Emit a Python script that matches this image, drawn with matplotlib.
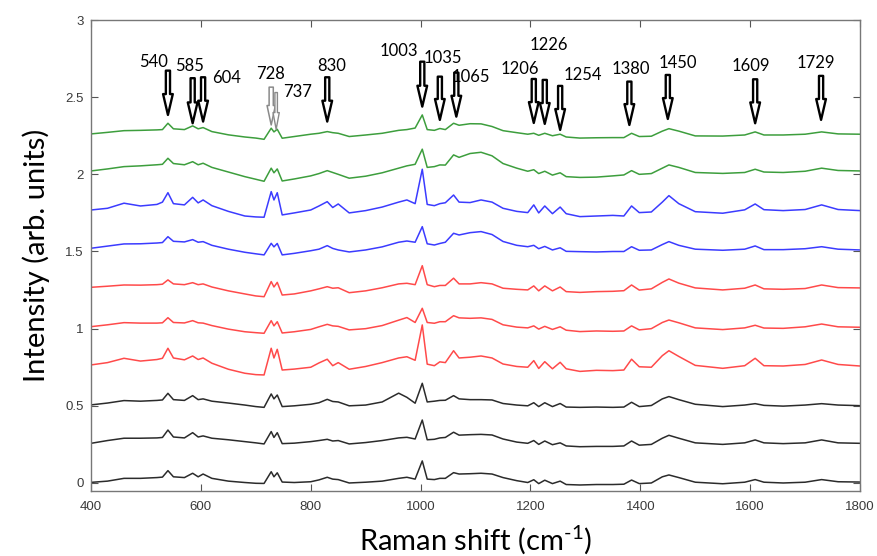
import matplotlib
matplotlib.use("Agg")
import matplotlib.pyplot as plt
from matplotlib.ticker import FormatStrFormatter, MultipleLocator

plt.rcParams["mathtext.fontset"] = "custom"
plt.rcParams["mathtext.rm"] = "Lato"

# Raman shift grid (cm^-1) shared by all spectra
shift = [400, 430, 460, 490, 520, 530, 540, 550, 570, 585, 595, 604, 620, 650, 680, 700,
         715, 728, 733, 739, 748, 770, 800, 815, 830, 840, 850, 870, 900, 930, 960, 975,
         990, 1003, 1012, 1025, 1035, 1045, 1060, 1070, 1090, 1110, 1130, 1150, 1175, 1195,
         1206, 1215, 1226, 1240, 1254, 1265, 1290, 1320, 1350, 1370, 1384, 1398, 1420, 1440,
         1452, 1470, 1500, 1550, 1590, 1609, 1625, 1660, 1700, 1730, 1760, 1800]

# intensities relative to each trace's offset
black_1 = [0.004, 0.012, 0.030, 0.030, 0.035, 0.038, 0.080, 0.040, 0.035, 0.063, 0.040, 0.058,
           0.030, 0.012, 0.003, -0.002, -0.003, 0.073, 0.040, 0.066, 0.006, 0.003, 0.008, 0.020,
           0.037, 0.025, 0.022, 0.000, 0.005, 0.012, 0.030, 0.037, 0.025, 0.143, 0.025, 0.022,
           0.030, 0.030, 0.067, 0.058, 0.060, 0.063, 0.058, 0.035, 0.015, 0.003, 0.021, -0.004,
           0.018, -0.004, 0.012, -0.010, -0.013, -0.010, -0.010, -0.008, 0.019, -0.004, 0.000,
           0.040, 0.052, 0.035, 0.005, -0.005, 0.005, 0.022, 0.005, 0.000, 0.005, 0.022, 0.008,
           0.006]
black_2 = [0.007, 0.025, 0.040, 0.040, 0.042, 0.045, 0.093, 0.048, 0.042, 0.076, 0.048, 0.055,
           0.040, 0.030, 0.018, 0.010, 0.003, 0.083, 0.045, 0.076, 0.005, 0.008, 0.018, 0.025,
           0.033, 0.022, 0.025, 0.003, 0.012, 0.025, 0.042, 0.046, 0.035, 0.158, 0.030, 0.033,
           0.042, 0.045, 0.079, 0.060, 0.063, 0.065, 0.061, 0.035, 0.015, 0.007, 0.025, 0.000,
           0.022, -0.002, 0.010, -0.010, -0.015, -0.013, -0.013, -0.010, 0.022, -0.005, 0.000,
           0.040, 0.059, 0.040, 0.010, 0.000, 0.010, 0.029, 0.010, 0.005, 0.010, 0.029, 0.010,
           0.007]
black_3 = [0.006, 0.018, 0.034, 0.030, 0.035, 0.038, 0.081, 0.040, 0.035, 0.066, 0.040, 0.045,
           0.030, 0.018, 0.005, -0.005, -0.010, 0.077, 0.045, 0.070, -0.005, 0.000, 0.010, 0.020,
           0.042, 0.028, 0.025, 0.000, 0.005, 0.025, 0.082, 0.055, 0.017, 0.146, 0.025, 0.030,
           0.035, 0.036, 0.066, 0.045, 0.040, 0.040, 0.038, 0.015, 0.005, 0.000, 0.020, -0.005,
           0.020, -0.005, 0.015, -0.008, -0.010, -0.008, -0.010, -0.008, 0.023, -0.005, 0.002,
           0.045, 0.060, 0.040, 0.010, -0.005, 0.005, 0.014, 0.003, -0.002, 0.005, 0.014, 0.005,
           0.001]
red_1 = [0.015, 0.030, 0.058, 0.040, 0.050, 0.058, 0.123, 0.060, 0.048, 0.073, 0.050, 0.060,
         0.026, -0.013, -0.039, -0.048, -0.050, 0.123, 0.060, 0.116, -0.018, -0.012, 0.000, 0.028,
         0.052, 0.010, 0.030, -0.013, 0.005, 0.030, 0.060, 0.068, 0.045, 0.274, 0.020, 0.010,
         0.035, 0.030, 0.107, 0.060, 0.065, 0.073, 0.060, 0.021, 0.005, 0.000, 0.043, -0.008,
         0.036, -0.010, 0.032, -0.010, -0.027, -0.020, -0.022, -0.018, 0.052, 0.003, 0.000,
         0.075, 0.107, 0.070, 0.012, -0.007, 0.010, 0.058, 0.010, 0.008, 0.018, 0.047, 0.018,
         0.008]
red_2 = [0.013, 0.025, 0.039, 0.036, 0.036, 0.038, 0.071, 0.040, 0.037, 0.052, 0.038, 0.036,
         0.020, -0.003, -0.020, -0.026, -0.030, 0.052, 0.018, 0.045, -0.028, -0.020, -0.005, 0.012,
         0.028, 0.018, 0.015, -0.008, 0.000, 0.020, 0.055, 0.072, 0.040, 0.132, 0.040, 0.035,
         0.045, 0.045, 0.084, 0.070, 0.067, 0.070, 0.060, 0.025, 0.010, 0.005, 0.018, -0.003,
         0.015, -0.005, 0.012, -0.010, -0.019, -0.015, -0.017, -0.015, 0.018, -0.008, 0.000,
         0.040, 0.056, 0.038, 0.005, -0.006, 0.005, 0.022, 0.004, 0.002, 0.012, 0.030, 0.012,
         0.009]
red_3 = [0.018, 0.025, 0.033, 0.032, 0.035, 0.038, 0.066, 0.040, 0.035, 0.048, 0.035, 0.040,
         0.020, -0.005, -0.025, -0.038, -0.043, 0.055, 0.020, 0.050, -0.032, -0.025, -0.005, 0.008,
         0.022, 0.012, 0.015, -0.017, -0.005, 0.015, 0.040, 0.044, 0.035, 0.158, 0.035, 0.022,
         0.030, 0.030, 0.077, 0.040, 0.040, 0.048, 0.040, 0.012, 0.005, 0.001, 0.027, -0.005,
         0.027, -0.005, 0.020, -0.010, -0.015, -0.010, -0.008, -0.004, 0.033, 0.000, 0.008,
         0.050, 0.072, 0.045, 0.014, 0.001, 0.012, 0.033, 0.008, 0.005, 0.010, 0.033, 0.016,
         0.014]
blue_1 = [0.021, 0.035, 0.049, 0.050, 0.055, 0.058, 0.096, 0.066, 0.062, 0.077, 0.060, 0.064,
          0.040, 0.015, -0.005, -0.015, -0.022, 0.053, 0.030, 0.052, -0.022, -0.012, 0.005, 0.015,
          0.038, 0.020, 0.010, -0.003, 0.010, 0.030, 0.060, 0.068, 0.060, 0.161, 0.050, 0.042,
          0.052, 0.060, 0.118, 0.107, 0.122, 0.129, 0.110, 0.065, 0.040, 0.031, 0.040, 0.018,
          0.033, 0.010, 0.024, 0.001, -0.001, -0.003, 0.000, 0.000, 0.031, 0.008, 0.010,
          0.045, 0.064, 0.040, 0.015, 0.008, 0.015, 0.036, 0.012, 0.012, 0.018, 0.031, 0.015,
          0.010]
blue_2 = [0.019, 0.030, 0.063, 0.045, 0.055, 0.070, 0.131, 0.060, 0.052, 0.101, 0.065, 0.084,
          0.047, 0.010, -0.020, -0.026, -0.028, 0.138, 0.084, 0.131, -0.013, 0.000, 0.019, 0.045,
          0.073, 0.035, 0.058, 0.000, 0.015, 0.038, 0.070, 0.084, 0.060, 0.283, 0.055, 0.047,
          0.060, 0.066, 0.116, 0.070, 0.067, 0.084, 0.070, 0.030, 0.010, 0.002, 0.052, 0.000,
          0.045, -0.005, 0.038, -0.005, -0.024, -0.020, -0.016, -0.020, 0.045, 0.002, 0.006,
          0.070, 0.112, 0.060, 0.008, -0.002, 0.020, 0.058, 0.021, 0.015, 0.022, 0.052, 0.022,
          0.015]
green_1 = [0.022, 0.035, 0.050, 0.055, 0.062, 0.065, 0.104, 0.070, 0.062, 0.082, 0.062, 0.072,
           0.045, 0.015, -0.015, -0.032, -0.045, 0.040, 0.010, 0.035, -0.043, -0.030, -0.010, 0.005,
           0.024, 0.012, 0.000, -0.025, -0.012, 0.010, 0.040, 0.055, 0.065, 0.163, 0.045, 0.050,
           0.061, 0.060, 0.126, 0.110, 0.135, 0.143, 0.120, 0.070, 0.040, 0.020, 0.030, 0.005,
           0.020, -0.005, 0.010, -0.015, -0.020, -0.018, -0.010, -0.004, 0.024, 0.000, 0.005,
           0.040, 0.061, 0.045, 0.012, 0.006, 0.012, 0.033, 0.015, 0.012, 0.020, 0.040, 0.025,
           0.022]
green_2 = [0.012, 0.022, 0.033, 0.035, 0.038, 0.040, 0.081, 0.045, 0.040, 0.064, 0.045, 0.053,
           0.027, 0.006, -0.008, -0.015, -0.023, 0.049, 0.025, 0.042, -0.016, -0.005, 0.010, 0.016,
           0.027, 0.020, 0.016, -0.005, 0.005, 0.016, 0.035, 0.040, 0.050, 0.135, 0.040, 0.035,
           0.047, 0.040, 0.081, 0.068, 0.078, 0.077, 0.060, 0.033, 0.020, 0.010, 0.016, 0.003,
           0.016, 0.000, 0.010, -0.008, -0.015, -0.013, -0.012, -0.012, 0.016, -0.005, -0.003,
           0.030, 0.046, 0.030, -0.001, -0.002, 0.005, 0.025, 0.005, 0.005, 0.010, 0.025, 0.012,
           0.010]

spectra = [black_1, black_2, black_3, red_1, red_2, red_3, blue_1, blue_2, green_1, green_2]
offsets = [0.0, 0.25, 0.5, 0.75, 1.0, 1.25, 1.5, 1.75, 2.0, 2.25]
colors = ["#2b2b2b"] * 3 + ["#ff4a4a"] * 3 + ["#3b3bff"] * 2 + ["#3d9e3d"] * 2

# band assignments marked with arrows
peak_labels = ["540", "585", "604", "728", "737", "830", "1003", "1035", "1065",
               "1206", "1226", "1254", "1380", "1450", "1609", "1729"]
arrow_x = [540, 585, 604, 728, 737, 830, 1003, 1035, 1065, 1206, 1226, 1254, 1380, 1450, 1609, 1729]
arrow_top = [2.672, 2.623, 2.629, 2.565, 2.530, 2.629, 2.730, 2.633, 2.659,
             2.618, 2.612, 2.573, 2.601, 2.644, 2.616, 2.638]
arrow_bottom = [2.385, 2.331, 2.342, 2.320, 2.292, 2.342, 2.439, 2.353, 2.374,
                2.333, 2.327, 2.288, 2.320, 2.359, 2.331, 2.353]
label_x = [513, 580, 646, 726, 776, 839, 961, 1041, 1092, 1180, 1234, 1295, 1383, 1469, 1602, 1720]
label_y = [2.727, 2.704, 2.623, 2.651, 2.536, 2.702, 2.800, 2.756, 2.633,
           2.683, 2.839, 2.644, 2.681, 2.720, 2.702, 2.720]


def main() -> None:
    fig = plt.figure(figsize=(8.77, 5.56), dpi=100)
    ax = fig.add_axes([0.1038, 0.1169, 0.8769, 0.8471])

    for values, offset, color in zip(spectra, offsets, colors):
        ax.plot(shift, [offset + v for v in values], color=color, linewidth=1.1)

    for i, text in enumerate(peak_labels):
        if text == "728":
            ec, style, lw = "#8a8a8a", "simple,head_length=1.4,head_width=0.6,tail_width=0.3", 1.1
        elif text == "737":
            ec, style, lw = "#8a8a8a", "simple,head_length=1.2,head_width=0.45,tail_width=0.18", 1.0
        else:
            ec, style, lw = "black", "simple,head_length=1.5,head_width=0.7,tail_width=0.3", 1.7
        ax.annotate("", xy=(arrow_x[i], arrow_bottom[i]), xytext=(arrow_x[i], arrow_top[i]),
                    arrowprops=dict(arrowstyle=style, fc="white", ec=ec, lw=lw,
                                    shrinkA=0, shrinkB=0, mutation_scale=10))
        ax.text(label_x[i], label_y[i], text, ha="center", va="center",
                fontsize=12, family="Lato", color="black")

    ax.set_xlim(400, 1800)
    ax.set_ylim(-0.052, 3)
    ax.xaxis.set_major_locator(MultipleLocator(200))
    ax.yaxis.set_major_locator(MultipleLocator(0.5))
    ax.yaxis.set_major_formatter(FormatStrFormatter("%g"))
    ax.tick_params(direction="in", top=True, right=True, length=5, width=0.8,
                   color="#555555", labelsize=9.5, labelcolor="#3a3a3a")
    ax.tick_params(axis="x", pad=7)
    ax.tick_params(axis="y", pad=5.5)
    for label in ax.get_xticklabels() + ax.get_yticklabels():
        label.set_family("Liberation Sans")
    for spine in ax.spines.values():
        spine.set_color("#777777")
        spine.set_linewidth(1.0)

    ax.set_xlabel(r"Raman shift (cm$^{\text{-}1}$)", fontsize=21, family="Lato", labelpad=8)
    ax.set_ylabel("Intensity (arb. units)", fontsize=21, family="Lato", labelpad=11)

    fig.savefig("out.png", dpi=100)
    plt.close(fig)


if __name__ == "__main__":
    main()
